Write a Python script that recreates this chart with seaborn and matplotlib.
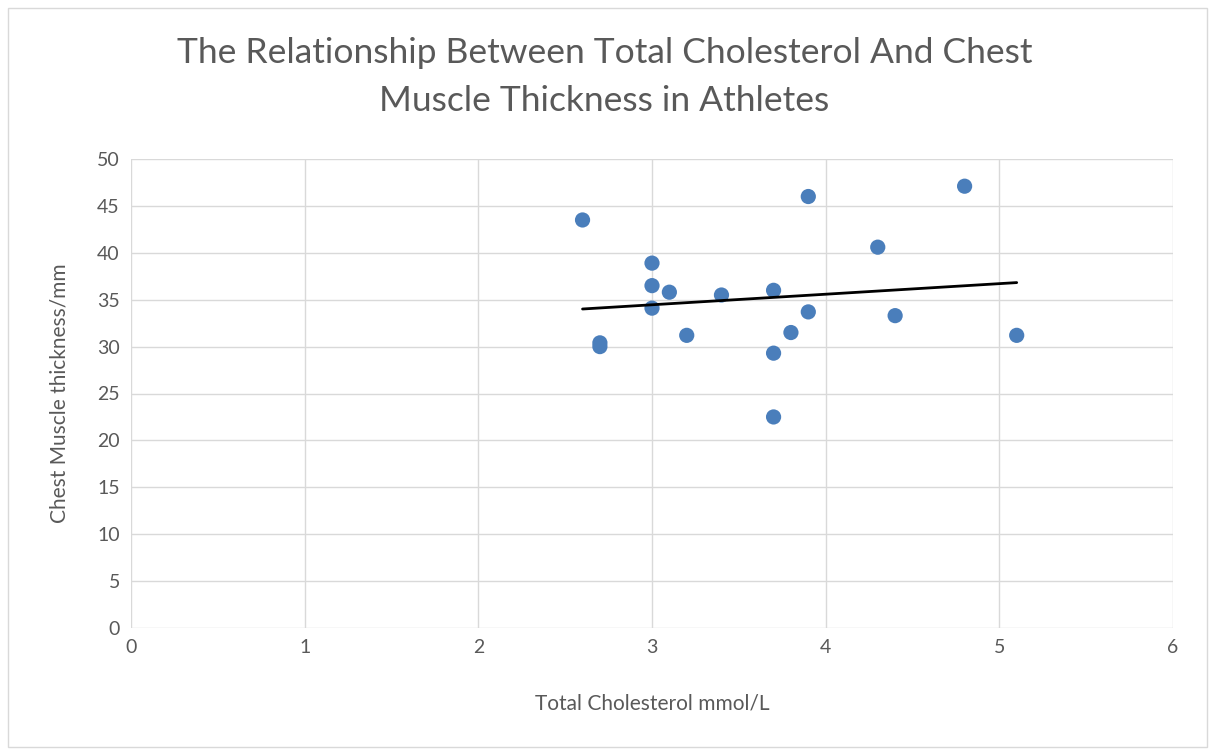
import pandas as pd
import seaborn as sns
import matplotlib.pyplot as plt
from matplotlib.patches import Rectangle

cholesterol = [2.6, 2.7, 2.7, 3.0, 3.0, 3.0, 3.1, 3.2, 3.4, 3.7, 3.7, 3.7, 3.8, 3.9, 3.9, 4.3, 4.4, 4.8, 5.1]
thickness = [43.5, 30.4, 30.0, 38.9, 36.5, 34.1, 35.8, 31.2, 35.5, 36.0, 29.3, 22.5, 31.5, 46.0, 33.7, 40.6, 33.3, 47.1, 31.2]

df = pd.DataFrame({"chol": cholesterol, "chest": thickness})

sns.set_theme(style="white")
plt.rcParams["font.family"] = ["Lato", "DejaVu Sans"]
grey = "#595959"

fig = plt.figure(figsize=(12.09, 7.49), dpi=100)
fig.patches.append(Rectangle((8/1209, 2/749), 1 - 10/1209, 1 - 10/749, transform=fig.transFigure,
                             fill=False, edgecolor="#d9d9d9", linewidth=1))
ax = fig.add_axes([131/1209, 1 - 628/749, (1173 - 131)/1209, (628 - 159)/749])

sns.regplot(data=df, x="chol", y="chest", ci=None, ax=ax,
            scatter_kws={"s": 120, "color": "#4a7ebb", "edgecolor": "none", "alpha": 1, "zorder": 3},
            line_kws={"color": "black", "linewidth": 2, "zorder": 4})

ax.set_xlim(0, 6)
ax.set_ylim(0, 50)
ax.set_xticks(range(0, 7))
ax.set_yticks(range(0, 51, 5))
ax.grid(True, color="#d9d9d9", linewidth=1)
ax.set_axisbelow(True)
for s in ax.spines.values():
    s.set_visible(False)
ax.tick_params(colors=grey, labelsize=14, length=0, pad=8)
ax.set_xlabel("Total Cholesterol mmol/L", color=grey, fontsize=15, labelpad=27)
ax.set_ylabel("Chest Muscle thickness/mm", color=grey, fontsize=15, labelpad=20)
fig.text(0.5, 1 - 37/749, "The Relationship Between Total Cholesterol And Chest\nMuscle Thickness in Athletes",
         ha="center", va="top", fontsize=25.5, color=grey, linespacing=1.6)

fig.savefig("out.png", dpi=100)
